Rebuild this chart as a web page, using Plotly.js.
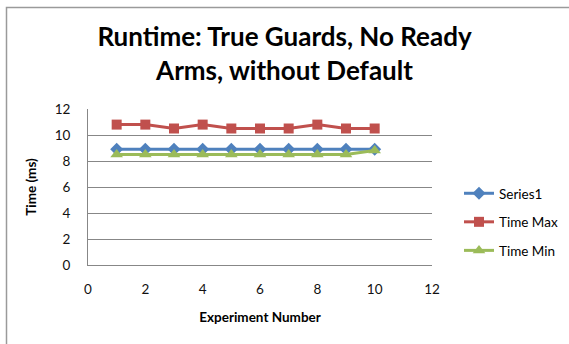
<!DOCTYPE html>
<html>
<head>
<meta charset="utf-8">
<script src="https://cdn.plot.ly/plotly-3.0.1.min.js"></script>
<style>
  html, body { margin: 0; padding: 0; background: #fff; }
  #chart { width: 569px; height: 344px; }
</style>
</head>
<body>
<div id="chart"></div>
<script>
// Experiment runs and measured runtimes (ms)
var experiments = [1, 2, 3, 4, 5, 6, 7, 8, 9, 10];
var series1  = [8.9, 8.9, 8.9, 8.9, 8.9, 8.9, 8.9, 8.9, 8.9, 8.9];
var timeMax  = [10.8, 10.8, 10.5, 10.8, 10.5, 10.5, 10.5, 10.8, 10.5, 10.5];
var timeMin  = [8.5, 8.5, 8.5, 8.5, 8.5, 8.5, 8.5, 8.5, 8.5, 8.8];
var seriesNames = ['Series1', 'Time Max', 'Time Min'];
var tickVals = [0, 2, 4, 6, 8, 10, 12];

var FONT = 'Lato, "Open Sans", sans-serif';
var GRID = '#878787';

function series(name, ys, color, symbol, size) {
  return {
    x: experiments, y: ys, name: name, legendgroup: name,
    type: 'scatter', mode: 'lines+markers',
    line: { color: color, width: 3 },
    marker: { color: color, symbol: symbol, size: size }
  };
}

var data = [
  series(seriesNames[0], series1, '#4F81BD', 'diamond', 10),
  series(seriesNames[1], timeMax, '#C0504D', 'square', 10),
  series(seriesNames[2], timeMin, '#9BBB59', 'triangle-up', 11)
];

var layout = {
  width: 569, height: 344,
  margin: { l: 88, r: 137, t: 109, b: 79, autoexpand: false },
  paper_bgcolor: '#fff', plot_bgcolor: '#fff',
  font: { family: FONT, color: '#000', size: 13 },
  title: {
    text: '<b>Runtime: True Guards, No Ready<br>Arms, without Default</b>',
    font: { family: FONT, size: 26, color: '#000' },
    x: 0.5, xref: 'container', xanchor: 'center',
    y: 1 - 46 / 344, yref: 'container', yanchor: 'top'
  },
  xaxis: {
    range: [0, 12], tickvals: tickVals, ticktext: tickVals.map(String),
    showgrid: false, zeroline: false,
    showline: true, linecolor: GRID, linewidth: 1,
    ticks: '', ticklabelstandoff: 12,
    tickfont: { family: FONT, size: 13.5, color: '#111' },
    title: { text: '<b>Experiment Number</b>', font: { family: FONT, size: 13.5, color: '#000' }, standoff: 16 }
  },
  yaxis: {
    range: [0, 12], tickvals: tickVals, ticktext: tickVals.map(String),
    showgrid: true, gridcolor: GRID, gridwidth: 1, zeroline: false,
    showline: true, linecolor: GRID, linewidth: 1,
    ticks: '', ticklabelstandoff: 14,
    tickfont: { family: FONT, size: 13.5, color: '#111' },
    title: { text: '<b>Time (ms)</b>', font: { family: FONT, size: 13.5, color: '#000' }, standoff: 14 }
  },
  showlegend: true,
  legend: {
    x: (459 - 88) / 344, xanchor: 'left',
    y: (265 - 178) / 156, yanchor: 'top',
    bgcolor: 'rgba(0,0,0,0)',
    font: { family: FONT, size: 13.5, color: '#000' },
    tracegroupgap: 8
  },
  shapes: [{
    type: 'rect', xref: 'paper', yref: 'paper',
    x0: (6.5 - 88) / 344, x1: 2,
    y0: -1, y1: (265 - 7.5) / 156,
    line: { color: '#9a9a9a', width: 1.5 }, fillcolor: 'rgba(0,0,0,0)',
    layer: 'below'
  }]
};

Plotly.newPlot('chart', data, layout, { displayModeBar: false, staticPlot: true });
</script>
</body>
</html>
